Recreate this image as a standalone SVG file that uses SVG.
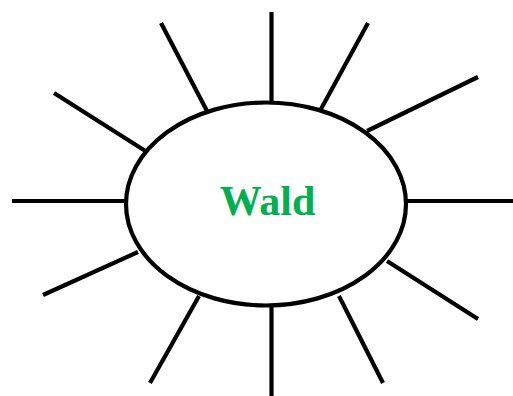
<svg xmlns="http://www.w3.org/2000/svg" width="513" height="396" viewBox="0 0 513 396">
<style>
.ray{stroke:#000;stroke-width:4.2;fill:none}
.node{stroke:#000;stroke-width:4.2;fill:#fff}
.label{font-family:"Liberation Serif",serif;font-weight:bold;font-size:42px;fill:#00b050}
</style>
<rect width="513" height="396" fill="#fff"/>
<g id="connectors">
<line class="ray" x1="271.5" y1="12" x2="271.5" y2="103"/>
<line class="ray" x1="271.5" y1="305" x2="271.5" y2="396"/>
<line class="ray" x1="12" y1="201" x2="126" y2="201"/>
<line class="ray" x1="405" y1="201" x2="513" y2="201"/>
<line class="ray" x1="161" y1="23" x2="207" y2="111"/>
<line class="ray" x1="368" y1="23" x2="321" y2="109"/>
<line class="ray" x1="54" y1="93" x2="147" y2="152"/>
<line class="ray" x1="478" y1="77" x2="367" y2="131"/>
<line class="ray" x1="43" y1="295" x2="138" y2="252"/>
<line class="ray" x1="478" y1="319" x2="387" y2="261"/>
<line class="ray" x1="150" y1="383" x2="199" y2="296"/>
<line class="ray" x1="383" y1="383" x2="339" y2="296"/>
</g>
<g id="node-wald">
<ellipse class="node" cx="266" cy="204" rx="140" ry="101.5"/>
<text class="label" x="267.5" y="215" text-anchor="middle">Wald</text>
</g>
</svg>
